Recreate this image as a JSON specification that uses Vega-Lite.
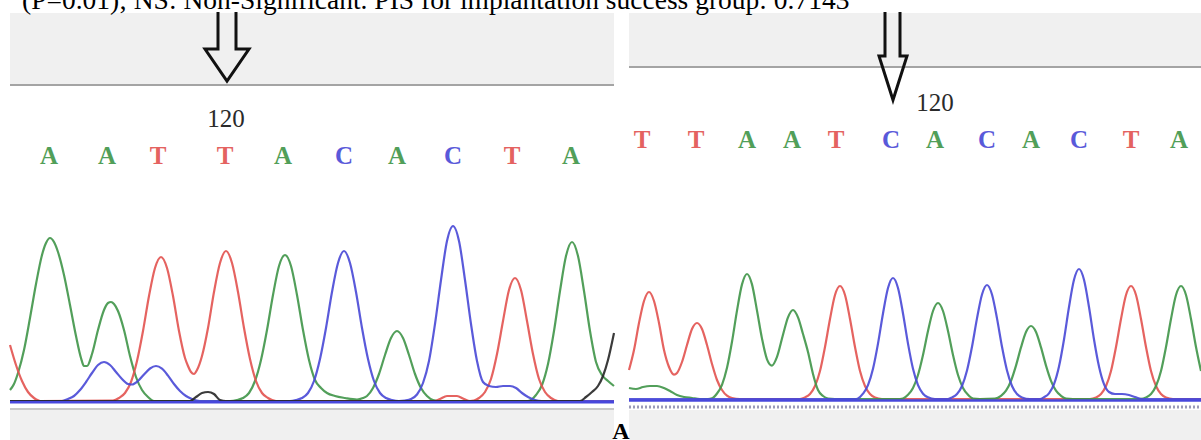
{
  "$schema": "https://vega.github.io/schema/vega-lite/v6.json",
  "width": 1201,
  "height": 440,
  "autosize": "none",
  "padding": 0,
  "background": "white",
  "config": {"view": {"stroke": null}},
  "encoding": {
    "x": {"field": "x", "type": "quantitative", "scale": {"domain": [0, 1201], "nice": false, "zero": false}, "axis": null},
    "y": {"field": "y", "type": "quantitative", "scale": {"domain": [0, 440], "nice": false, "zero": false, "reverse": true}, "axis": null}
  },
  "layer": [
    {
      "data": {"values": [
        {"x": 10, "x2": 614, "y": 13, "y2": 85},
        {"x": 629, "x2": 1201, "y": 13, "y2": 67},
        {"x": 10, "x2": 614, "y": 410, "y2": 440},
        {"x": 629, "x2": 1201, "y": 410, "y2": 440}
      ]},
      "mark": {"type": "rect", "color": "#f0f0f0"},
      "encoding": {"x2": {"field": "x2"}, "y2": {"field": "y2"}}
    },
    {
      "data": {"values": [
        {"s": "L", "x": 10, "y": 85}, {"s": "L", "x": 614, "y": 85},
        {"s": "R", "x": 629, "y": 67}, {"s": "R", "x": 1201, "y": 67}
      ]},
      "mark": {"type": "line", "color": "#a4a4a4", "strokeWidth": 2},
      "encoding": {"detail": {"field": "s"}}
    },
    {
      "data": {"values": [{"x": 10, "y": 409}, {"x": 614, "y": 409}]},
      "mark": {"type": "line", "color": "#c8c8c8", "strokeWidth": 2},
      "encoding": {}
    },
    {
      "data": {"values": [{"x": 629, "y": 407}, {"x": 1201, "y": 407}]},
      "mark": {"type": "line", "color": "#9a9ab8", "strokeWidth": 3, "strokeDash": [2, 2]},
      "encoding": {}
    },
    {
      "data": {"values": [
        {"a": "L", "o": 1, "x": 218, "y": 12}, {"a": "L", "o": 2, "x": 218, "y": 49}, {"a": "L", "o": 3, "x": 205, "y": 49}, {"a": "L", "o": 4, "x": 227, "y": 81}, {"a": "L", "o": 5, "x": 249, "y": 49}, {"a": "L", "o": 6, "x": 236, "y": 49}, {"a": "L", "o": 7, "x": 236, "y": 12},
        {"a": "R", "o": 1, "x": 885, "y": 12}, {"a": "R", "o": 2, "x": 885, "y": 56}, {"a": "R", "o": 3, "x": 879, "y": 56}, {"a": "R", "o": 4, "x": 893, "y": 100}, {"a": "R", "o": 5, "x": 907, "y": 56}, {"a": "R", "o": 6, "x": 900, "y": 56}, {"a": "R", "o": 7, "x": 900, "y": 12}
      ]},
      "mark": {"type": "line", "color": "#111111", "strokeWidth": 3, "strokeJoin": "miter"},
      "encoding": {"detail": {"field": "a"}, "order": {"field": "o", "type": "quantitative"}}
    },
    {
      "data": {"values": [
        {"s":"LA","b":"A","x":10,"y":390},{"s":"LA","b":"A","x":14,"y":384},{"s":"LA","b":"A","x":18,"y":373},{"s":"LA","b":"A","x":24,"y":350},{"s":"LA","b":"A","x":30,"y":318},{"s":"LA","b":"A","x":36,"y":284},{"s":"LA","b":"A","x":42,"y":255},{"s":"LA","b":"A","x":46,"y":243},{"s":"LA","b":"A","x":50,"y":238},{"s":"LA","b":"A","x":54,"y":242},{"s":"LA","b":"A","x":58,"y":252},{"s":"LA","b":"A","x":64,"y":275},{"s":"LA","b":"A","x":70,"y":305},{"s":"LA","b":"A","x":76,"y":336},{"s":"LA","b":"A","x":81,"y":358},{"s":"LA","b":"A","x":84,"y":366},{"s":"LA","b":"A","x":87,"y":366},{"s":"LA","b":"A","x":92,"y":354},{"s":"LA","b":"A","x":98,"y":330},{"s":"LA","b":"A","x":104,"y":310},{"s":"LA","b":"A","x":108,"y":303},{"s":"LA","b":"A","x":111,"y":302},{"s":"LA","b":"A","x":114,"y":304},{"s":"LA","b":"A","x":118,"y":311},{"s":"LA","b":"A","x":124,"y":330},{"s":"LA","b":"A","x":130,"y":356},{"s":"LA","b":"A","x":136,"y":377},{"s":"LA","b":"A","x":142,"y":390},{"s":"LA","b":"A","x":148,"y":397},{"s":"LA","b":"A","x":154,"y":401},{"s":"LA","b":"A","x":230,"y":401},{"s":"LA","b":"A","x":237,"y":400},{"s":"LA","b":"A","x":243,"y":398},{"s":"LA","b":"A","x":249,"y":393},{"s":"LA","b":"A","x":255,"y":381},{"s":"LA","b":"A","x":261,"y":360},{"s":"LA","b":"A","x":267,"y":330},{"s":"LA","b":"A","x":273,"y":295},{"s":"LA","b":"A","x":279,"y":266},{"s":"LA","b":"A","x":285,"y":255},{"s":"LA","b":"A","x":291,"y":266},{"s":"LA","b":"A","x":297,"y":295},{"s":"LA","b":"A","x":303,"y":330},{"s":"LA","b":"A","x":309,"y":360},{"s":"LA","b":"A","x":315,"y":380},{"s":"LA","b":"A","x":321,"y":388},{"s":"LA","b":"A","x":327,"y":393},{"s":"LA","b":"A","x":335,"y":396},{"s":"LA","b":"A","x":345,"y":398},{"s":"LA","b":"A","x":357,"y":399.5},{"s":"LA","b":"A","x":363,"y":398},{"s":"LA","b":"A","x":367,"y":396},{"s":"LA","b":"A","x":373,"y":388},{"s":"LA","b":"A","x":379,"y":374},{"s":"LA","b":"A","x":385,"y":355},{"s":"LA","b":"A","x":391,"y":338},{"s":"LA","b":"A","x":397,"y":331},{"s":"LA","b":"A","x":403,"y":338},{"s":"LA","b":"A","x":409,"y":355},{"s":"LA","b":"A","x":415,"y":374},{"s":"LA","b":"A","x":421,"y":388},{"s":"LA","b":"A","x":427,"y":396},{"s":"LA","b":"A","x":433,"y":400},{"s":"LA","b":"A","x":440,"y":401},{"s":"LA","b":"A","x":528,"y":401},{"s":"LA","b":"A","x":536,"y":395},{"s":"LA","b":"A","x":542,"y":385},{"s":"LA","b":"A","x":548,"y":364},{"s":"LA","b":"A","x":554,"y":331},{"s":"LA","b":"A","x":560,"y":291},{"s":"LA","b":"A","x":566,"y":256},{"s":"LA","b":"A","x":572,"y":242},{"s":"LA","b":"A","x":578,"y":256},{"s":"LA","b":"A","x":584,"y":291},{"s":"LA","b":"A","x":590,"y":331},{"s":"LA","b":"A","x":596,"y":362},{"s":"LA","b":"A","x":602,"y":375},{"s":"LA","b":"A","x":608,"y":381},{"s":"LA","b":"A","x":614,"y":386},
        {"s":"LT","b":"T","x":10,"y":345},{"s":"LT","b":"T","x":16,"y":365},{"s":"LT","b":"T","x":22,"y":381},{"s":"LT","b":"T","x":28,"y":392},{"s":"LT","b":"T","x":34,"y":398},{"s":"LT","b":"T","x":40,"y":401},{"s":"LT","b":"T","x":113,"y":400.5},{"s":"LT","b":"T","x":119,"y":398},{"s":"LT","b":"T","x":125,"y":393},{"s":"LT","b":"T","x":131,"y":382},{"s":"LT","b":"T","x":137,"y":361},{"s":"LT","b":"T","x":143,"y":331},{"s":"LT","b":"T","x":149,"y":296},{"s":"LT","b":"T","x":155,"y":268},{"s":"LT","b":"T","x":161,"y":257},{"s":"LT","b":"T","x":167,"y":268},{"s":"LT","b":"T","x":173,"y":296},{"s":"LT","b":"T","x":179,"y":331},{"s":"LT","b":"T","x":185,"y":358},{"s":"LT","b":"T","x":188,"y":366},{"s":"LT","b":"T","x":191,"y":372},{"s":"LT","b":"T","x":194,"y":374},{"s":"LT","b":"T","x":197,"y":370},{"s":"LT","b":"T","x":202,"y":356},{"s":"LT","b":"T","x":208,"y":328},{"s":"LT","b":"T","x":214,"y":292},{"s":"LT","b":"T","x":220,"y":263},{"s":"LT","b":"T","x":226,"y":251},{"s":"LT","b":"T","x":232,"y":263},{"s":"LT","b":"T","x":238,"y":292},{"s":"LT","b":"T","x":244,"y":328},{"s":"LT","b":"T","x":250,"y":359},{"s":"LT","b":"T","x":256,"y":381},{"s":"LT","b":"T","x":262,"y":393},{"s":"LT","b":"T","x":268,"y":398},{"s":"LT","b":"T","x":276,"y":401},{"s":"LT","b":"T","x":435,"y":401},{"s":"LT","b":"T","x":440,"y":399},{"s":"LT","b":"T","x":447,"y":396},{"s":"LT","b":"T","x":457,"y":396},{"s":"LT","b":"T","x":464,"y":399},{"s":"LT","b":"T","x":470,"y":401},{"s":"LT","b":"T","x":474,"y":400.5},{"s":"LT","b":"T","x":479,"y":398},{"s":"LT","b":"T","x":485,"y":392},{"s":"LT","b":"T","x":491,"y":379},{"s":"LT","b":"T","x":497,"y":354},{"s":"LT","b":"T","x":503,"y":321},{"s":"LT","b":"T","x":509,"y":290},{"s":"LT","b":"T","x":515,"y":278},{"s":"LT","b":"T","x":521,"y":290},{"s":"LT","b":"T","x":527,"y":321},{"s":"LT","b":"T","x":533,"y":354},{"s":"LT","b":"T","x":539,"y":379},{"s":"LT","b":"T","x":545,"y":392},{"s":"LT","b":"T","x":551,"y":398},{"s":"LT","b":"T","x":558,"y":401},{"s":"LT","b":"T","x":614,"y":401},
        {"s":"LC","b":"C","x":10,"y":401},{"s":"LC","b":"C","x":62,"y":401},{"s":"LC","b":"C","x":68,"y":399},{"s":"LC","b":"C","x":74,"y":396},{"s":"LC","b":"C","x":80,"y":390},{"s":"LC","b":"C","x":86,"y":382},{"s":"LC","b":"C","x":92,"y":373},{"s":"LC","b":"C","x":98,"y":365},{"s":"LC","b":"C","x":104,"y":362},{"s":"LC","b":"C","x":110,"y":365},{"s":"LC","b":"C","x":116,"y":372},{"s":"LC","b":"C","x":122,"y":379},{"s":"LC","b":"C","x":128,"y":384},{"s":"LC","b":"C","x":132,"y":384.5},{"s":"LC","b":"C","x":138,"y":381},{"s":"LC","b":"C","x":144,"y":374.5},{"s":"LC","b":"C","x":150,"y":368.5},{"s":"LC","b":"C","x":156,"y":366},{"s":"LC","b":"C","x":162,"y":368.7},{"s":"LC","b":"C","x":168,"y":375.6},{"s":"LC","b":"C","x":174,"y":384},{"s":"LC","b":"C","x":180,"y":391},{"s":"LC","b":"C","x":186,"y":396},{"s":"LC","b":"C","x":192,"y":399},{"s":"LC","b":"C","x":200,"y":401},{"s":"LC","b":"C","x":290,"y":401},{"s":"LC","b":"C","x":296,"y":400},{"s":"LC","b":"C","x":302,"y":398},{"s":"LC","b":"C","x":308,"y":393},{"s":"LC","b":"C","x":314,"y":381},{"s":"LC","b":"C","x":320,"y":359},{"s":"LC","b":"C","x":326,"y":328},{"s":"LC","b":"C","x":332,"y":292},{"s":"LC","b":"C","x":338,"y":263},{"s":"LC","b":"C","x":344,"y":251},{"s":"LC","b":"C","x":350,"y":263},{"s":"LC","b":"C","x":356,"y":292},{"s":"LC","b":"C","x":362,"y":328},{"s":"LC","b":"C","x":368,"y":359},{"s":"LC","b":"C","x":374,"y":381},{"s":"LC","b":"C","x":380,"y":393},{"s":"LC","b":"C","x":386,"y":398},{"s":"LC","b":"C","x":392,"y":400},{"s":"LC","b":"C","x":399,"y":401},{"s":"LC","b":"C","x":405,"y":400.5},{"s":"LC","b":"C","x":411,"y":399},{"s":"LC","b":"C","x":417,"y":394.5},{"s":"LC","b":"C","x":423,"y":383},{"s":"LC","b":"C","x":429,"y":361},{"s":"LC","b":"C","x":435,"y":324},{"s":"LC","b":"C","x":441,"y":280},{"s":"LC","b":"C","x":447,"y":241},{"s":"LC","b":"C","x":453,"y":226},{"s":"LC","b":"C","x":459,"y":241},{"s":"LC","b":"C","x":465,"y":280},{"s":"LC","b":"C","x":471,"y":324},{"s":"LC","b":"C","x":477,"y":361},{"s":"LC","b":"C","x":483,"y":382},{"s":"LC","b":"C","x":489,"y":386},{"s":"LC","b":"C","x":496,"y":387},{"s":"LC","b":"C","x":503,"y":386},{"s":"LC","b":"C","x":510,"y":386},{"s":"LC","b":"C","x":516,"y":388},{"s":"LC","b":"C","x":522,"y":393},{"s":"LC","b":"C","x":528,"y":397},{"s":"LC","b":"C","x":535,"y":400},{"s":"LC","b":"C","x":542,"y":401},{"s":"LC","b":"C","x":614,"y":401},
        {"s":"LG","b":"G","x":10,"y":401},{"s":"LG","b":"G","x":190,"y":401},{"s":"LG","b":"G","x":196,"y":397},{"s":"LG","b":"G","x":202,"y":393},{"s":"LG","b":"G","x":208,"y":392},{"s":"LG","b":"G","x":214,"y":394},{"s":"LG","b":"G","x":220,"y":400},{"s":"LG","b":"G","x":226,"y":401},{"s":"LG","b":"G","x":580,"y":401},{"s":"LG","b":"G","x":586,"y":397},{"s":"LG","b":"G","x":592,"y":392},{"s":"LG","b":"G","x":598,"y":386},{"s":"LG","b":"G","x":603,"y":376},{"s":"LG","b":"G","x":608,"y":360},{"s":"LG","b":"G","x":614,"y":333},
        {"s":"RT","b":"T","x":629,"y":370},{"s":"RT","b":"T","x":634,"y":350},{"s":"RT","b":"T","x":639,"y":323},{"s":"RT","b":"T","x":644,"y":301},{"s":"RT","b":"T","x":649,"y":292},{"s":"RT","b":"T","x":654,"y":301},{"s":"RT","b":"T","x":659,"y":323},{"s":"RT","b":"T","x":664,"y":350},{"s":"RT","b":"T","x":669,"y":367},{"s":"RT","b":"T","x":674,"y":374.7},{"s":"RT","b":"T","x":677,"y":373},{"s":"RT","b":"T","x":682,"y":362},{"s":"RT","b":"T","x":687,"y":345},{"s":"RT","b":"T","x":692,"y":329},{"s":"RT","b":"T","x":697,"y":323},{"s":"RT","b":"T","x":702,"y":329},{"s":"RT","b":"T","x":707,"y":345},{"s":"RT","b":"T","x":712,"y":364},{"s":"RT","b":"T","x":717,"y":380},{"s":"RT","b":"T","x":722,"y":390},{"s":"RT","b":"T","x":727,"y":395.7},{"s":"RT","b":"T","x":732,"y":398},{"s":"RT","b":"T","x":740,"y":399},{"s":"RT","b":"T","x":800,"y":399},{"s":"RT","b":"T","x":805,"y":397.4},{"s":"RT","b":"T","x":810,"y":394},{"s":"RT","b":"T","x":815,"y":386},{"s":"RT","b":"T","x":820,"y":371},{"s":"RT","b":"T","x":825,"y":347},{"s":"RT","b":"T","x":830,"y":319},{"s":"RT","b":"T","x":835,"y":295},{"s":"RT","b":"T","x":840,"y":286},{"s":"RT","b":"T","x":845,"y":295},{"s":"RT","b":"T","x":850,"y":319},{"s":"RT","b":"T","x":855,"y":347},{"s":"RT","b":"T","x":860,"y":371},{"s":"RT","b":"T","x":865,"y":386},{"s":"RT","b":"T","x":870,"y":394},{"s":"RT","b":"T","x":875,"y":397.5},{"s":"RT","b":"T","x":882,"y":399},{"s":"RT","b":"T","x":1090,"y":399},{"s":"RT","b":"T","x":1096,"y":397.4},{"s":"RT","b":"T","x":1101,"y":394},{"s":"RT","b":"T","x":1106,"y":386},{"s":"RT","b":"T","x":1111,"y":371},{"s":"RT","b":"T","x":1116,"y":347},{"s":"RT","b":"T","x":1121,"y":319},{"s":"RT","b":"T","x":1126,"y":295},{"s":"RT","b":"T","x":1131,"y":286},{"s":"RT","b":"T","x":1136,"y":295},{"s":"RT","b":"T","x":1141,"y":319},{"s":"RT","b":"T","x":1146,"y":347},{"s":"RT","b":"T","x":1151,"y":371},{"s":"RT","b":"T","x":1156,"y":386},{"s":"RT","b":"T","x":1161,"y":394},{"s":"RT","b":"T","x":1166,"y":397.5},{"s":"RT","b":"T","x":1173,"y":399},{"s":"RT","b":"T","x":1201,"y":399},
        {"s":"RA","b":"A","x":629,"y":388},{"s":"RA","b":"A","x":636,"y":389},{"s":"RA","b":"A","x":643,"y":387},{"s":"RA","b":"A","x":650,"y":386},{"s":"RA","b":"A","x":657,"y":386},{"s":"RA","b":"A","x":664,"y":388},{"s":"RA","b":"A","x":670,"y":391},{"s":"RA","b":"A","x":677,"y":395},{"s":"RA","b":"A","x":684,"y":397},{"s":"RA","b":"A","x":692,"y":398},{"s":"RA","b":"A","x":700,"y":399},{"s":"RA","b":"A","x":708,"y":399},{"s":"RA","b":"A","x":712,"y":398.3},{"s":"RA","b":"A","x":717,"y":393.5},{"s":"RA","b":"A","x":722,"y":384.8},{"s":"RA","b":"A","x":727,"y":367.8},{"s":"RA","b":"A","x":732,"y":341.8},{"s":"RA","b":"A","x":737,"y":310.6},{"s":"RA","b":"A","x":742,"y":284.4},{"s":"RA","b":"A","x":747,"y":274},{"s":"RA","b":"A","x":752,"y":284.4},{"s":"RA","b":"A","x":757,"y":310.6},{"s":"RA","b":"A","x":762,"y":338.6},{"s":"RA","b":"A","x":767,"y":359.3},{"s":"RA","b":"A","x":772,"y":365.6},{"s":"RA","b":"A","x":777,"y":356.9},{"s":"RA","b":"A","x":783,"y":334.7},{"s":"RA","b":"A","x":788,"y":317.4},{"s":"RA","b":"A","x":793,"y":310},{"s":"RA","b":"A","x":798,"y":317.4},{"s":"RA","b":"A","x":803,"y":334},{"s":"RA","b":"A","x":808,"y":352},{"s":"RA","b":"A","x":813,"y":374},{"s":"RA","b":"A","x":818,"y":390},{"s":"RA","b":"A","x":823,"y":396},{"s":"RA","b":"A","x":828,"y":398.5},{"s":"RA","b":"A","x":835,"y":399},{"s":"RA","b":"A","x":900,"y":399},{"s":"RA","b":"A","x":903,"y":398.5},{"s":"RA","b":"A","x":908,"y":394.8},{"s":"RA","b":"A","x":913,"y":388},{"s":"RA","b":"A","x":918,"y":375},{"s":"RA","b":"A","x":923,"y":355},{"s":"RA","b":"A","x":928,"y":331},{"s":"RA","b":"A","x":933,"y":311},{"s":"RA","b":"A","x":938,"y":303},{"s":"RA","b":"A","x":943,"y":311},{"s":"RA","b":"A","x":948,"y":331},{"s":"RA","b":"A","x":953,"y":355},{"s":"RA","b":"A","x":958,"y":375},{"s":"RA","b":"A","x":963,"y":388},{"s":"RA","b":"A","x":968,"y":394.8},{"s":"RA","b":"A","x":973,"y":398.5},{"s":"RA","b":"A","x":980,"y":399},{"s":"RA","b":"A","x":995,"y":398.6},{"s":"RA","b":"A","x":1001,"y":395.8},{"s":"RA","b":"A","x":1006,"y":390.7},{"s":"RA","b":"A","x":1011,"y":380.8},{"s":"RA","b":"A","x":1016,"y":365.6},{"s":"RA","b":"A","x":1021,"y":347.4},{"s":"RA","b":"A","x":1026,"y":332},{"s":"RA","b":"A","x":1031,"y":326},{"s":"RA","b":"A","x":1036,"y":332},{"s":"RA","b":"A","x":1041,"y":347.4},{"s":"RA","b":"A","x":1046,"y":365.6},{"s":"RA","b":"A","x":1051,"y":380.8},{"s":"RA","b":"A","x":1056,"y":390.7},{"s":"RA","b":"A","x":1061,"y":395.8},{"s":"RA","b":"A","x":1066,"y":398.6},{"s":"RA","b":"A","x":1073,"y":399},{"s":"RA","b":"A","x":1136,"y":399},{"s":"RA","b":"A","x":1141,"y":398.9},{"s":"RA","b":"A","x":1146,"y":397.4},{"s":"RA","b":"A","x":1151,"y":394},{"s":"RA","b":"A","x":1156,"y":386},{"s":"RA","b":"A","x":1161,"y":371},{"s":"RA","b":"A","x":1166,"y":347},{"s":"RA","b":"A","x":1171,"y":319},{"s":"RA","b":"A","x":1176,"y":295},{"s":"RA","b":"A","x":1181,"y":286},{"s":"RA","b":"A","x":1186,"y":295},{"s":"RA","b":"A","x":1191,"y":319},{"s":"RA","b":"A","x":1196,"y":347},{"s":"RA","b":"A","x":1201,"y":371},
        {"s":"RC","b":"C","x":629,"y":399},{"s":"RC","b":"C","x":855,"y":399},{"s":"RC","b":"C","x":858,"y":398.4},{"s":"RC","b":"C","x":863,"y":393.7},{"s":"RC","b":"C","x":868,"y":385.2},{"s":"RC","b":"C","x":873,"y":368.8},{"s":"RC","b":"C","x":878,"y":343.6},{"s":"RC","b":"C","x":883,"y":313.5},{"s":"RC","b":"C","x":888,"y":288},{"s":"RC","b":"C","x":893,"y":278},{"s":"RC","b":"C","x":898,"y":288},{"s":"RC","b":"C","x":903,"y":313.5},{"s":"RC","b":"C","x":908,"y":343.6},{"s":"RC","b":"C","x":913,"y":368.8},{"s":"RC","b":"C","x":918,"y":385.2},{"s":"RC","b":"C","x":923,"y":393.7},{"s":"RC","b":"C","x":928,"y":397.3},{"s":"RC","b":"C","x":935,"y":399},{"s":"RC","b":"C","x":948,"y":399},{"s":"RC","b":"C","x":952,"y":397.4},{"s":"RC","b":"C","x":957,"y":394},{"s":"RC","b":"C","x":962,"y":386},{"s":"RC","b":"C","x":967,"y":370.5},{"s":"RC","b":"C","x":972,"y":346.8},{"s":"RC","b":"C","x":977,"y":318.4},{"s":"RC","b":"C","x":982,"y":294.5},{"s":"RC","b":"C","x":987,"y":285},{"s":"RC","b":"C","x":992,"y":294.5},{"s":"RC","b":"C","x":997,"y":318.4},{"s":"RC","b":"C","x":1002,"y":346.8},{"s":"RC","b":"C","x":1007,"y":370.5},{"s":"RC","b":"C","x":1012,"y":386},{"s":"RC","b":"C","x":1017,"y":394},{"s":"RC","b":"C","x":1022,"y":397.4},{"s":"RC","b":"C","x":1030,"y":399},{"s":"RC","b":"C","x":1040,"y":399},{"s":"RC","b":"C","x":1044,"y":397.2},{"s":"RC","b":"C","x":1049,"y":393.3},{"s":"RC","b":"C","x":1054,"y":384.2},{"s":"RC","b":"C","x":1059,"y":366.5},{"s":"RC","b":"C","x":1064,"y":339.5},{"s":"RC","b":"C","x":1069,"y":307},{"s":"RC","b":"C","x":1074,"y":279.8},{"s":"RC","b":"C","x":1079,"y":269},{"s":"RC","b":"C","x":1084,"y":279.8},{"s":"RC","b":"C","x":1089,"y":307},{"s":"RC","b":"C","x":1094,"y":339.5},{"s":"RC","b":"C","x":1099,"y":366.5},{"s":"RC","b":"C","x":1104,"y":384.2},{"s":"RC","b":"C","x":1109,"y":392},{"s":"RC","b":"C","x":1115,"y":394},{"s":"RC","b":"C","x":1122,"y":394},{"s":"RC","b":"C","x":1129,"y":395},{"s":"RC","b":"C","x":1135,"y":397},{"s":"RC","b":"C","x":1142,"y":399},{"s":"RC","b":"C","x":1201,"y":399}
      ]},
      "mark": {"type": "line", "interpolate": "monotone", "strokeWidth": 2.2, "strokeJoin": "round", "opacity": 0.9},
      "encoding": {
        "detail": {"field": "s"},
        "color": {"field": "b", "type": "nominal", "scale": {"domain": ["A", "C", "G", "T"], "range": ["#3f9548", "#4848d6", "#262626", "#e2524f"]}, "legend": null}
      }
    },
    {
      "data": {"values": [
        {"s": "L", "x": 10, "y": 402.3}, {"s": "L", "x": 614, "y": 402.3},
        {"s": "R", "x": 629, "y": 400.5}, {"s": "R", "x": 1201, "y": 400.5}
      ]},
      "mark": {"type": "line", "color": "#4848dc", "strokeWidth": 2.5},
      "encoding": {"detail": {"field": "s"}}
    },
    {
      "data": {"values": [
        {"b":"A","x":49,"y":156},{"b":"A","x":107,"y":156},{"b":"T","x":158,"y":156},{"b":"T","x":225,"y":156},{"b":"A","x":283,"y":156},{"b":"C","x":344,"y":156},{"b":"A","x":397,"y":156},{"b":"C","x":453,"y":156},{"b":"T","x":512,"y":156},{"b":"A","x":571,"y":156},
        {"b":"T","x":642,"y":140},{"b":"T","x":696,"y":140},{"b":"A","x":747,"y":140},{"b":"A","x":792,"y":140},{"b":"T","x":836,"y":140},{"b":"C","x":891,"y":140},{"b":"A","x":935,"y":140},{"b":"C","x":987,"y":140},{"b":"A","x":1031,"y":140},{"b":"C","x":1079,"y":140},{"b":"T","x":1131,"y":140},{"b":"A","x":1179,"y":140}
      ]},
      "mark": {"type": "text", "font": "Liberation Serif", "fontSize": 25, "fontWeight": "bold", "align": "center", "baseline": "middle", "opacity": 0.9},
      "encoding": {"text": {"field": "b"}, "color": {"field": "b", "type": "nominal", "legend": null}}
    },
    {
      "data": {"values": [{"t": "120", "x": 226, "y": 119}, {"t": "120", "x": 935, "y": 103}]},
      "mark": {"type": "text", "font": "Liberation Serif", "fontSize": 25, "align": "center", "baseline": "middle", "color": "#2a2a2a"},
      "encoding": {"text": {"field": "t"}}
    },
    {
      "data": {"values": [{"t": "(P=0.01); NS: Non-Significant. PIS for implantation success group: 0.7143", "x": 22, "y": 9}]},
      "mark": {"type": "text", "font": "Liberation Serif", "fontSize": 27.5, "align": "left", "baseline": "alphabetic", "color": "#000000"},
      "encoding": {"text": {"field": "t"}}
    },
    {
      "data": {"values": [{"t": "A", "x": 621, "y": 439}]},
      "mark": {"type": "text", "font": "Liberation Serif", "fontSize": 24, "fontWeight": "bold", "align": "center", "baseline": "alphabetic", "color": "#000000"},
      "encoding": {"text": {"field": "t"}}
    }
  ]
}
